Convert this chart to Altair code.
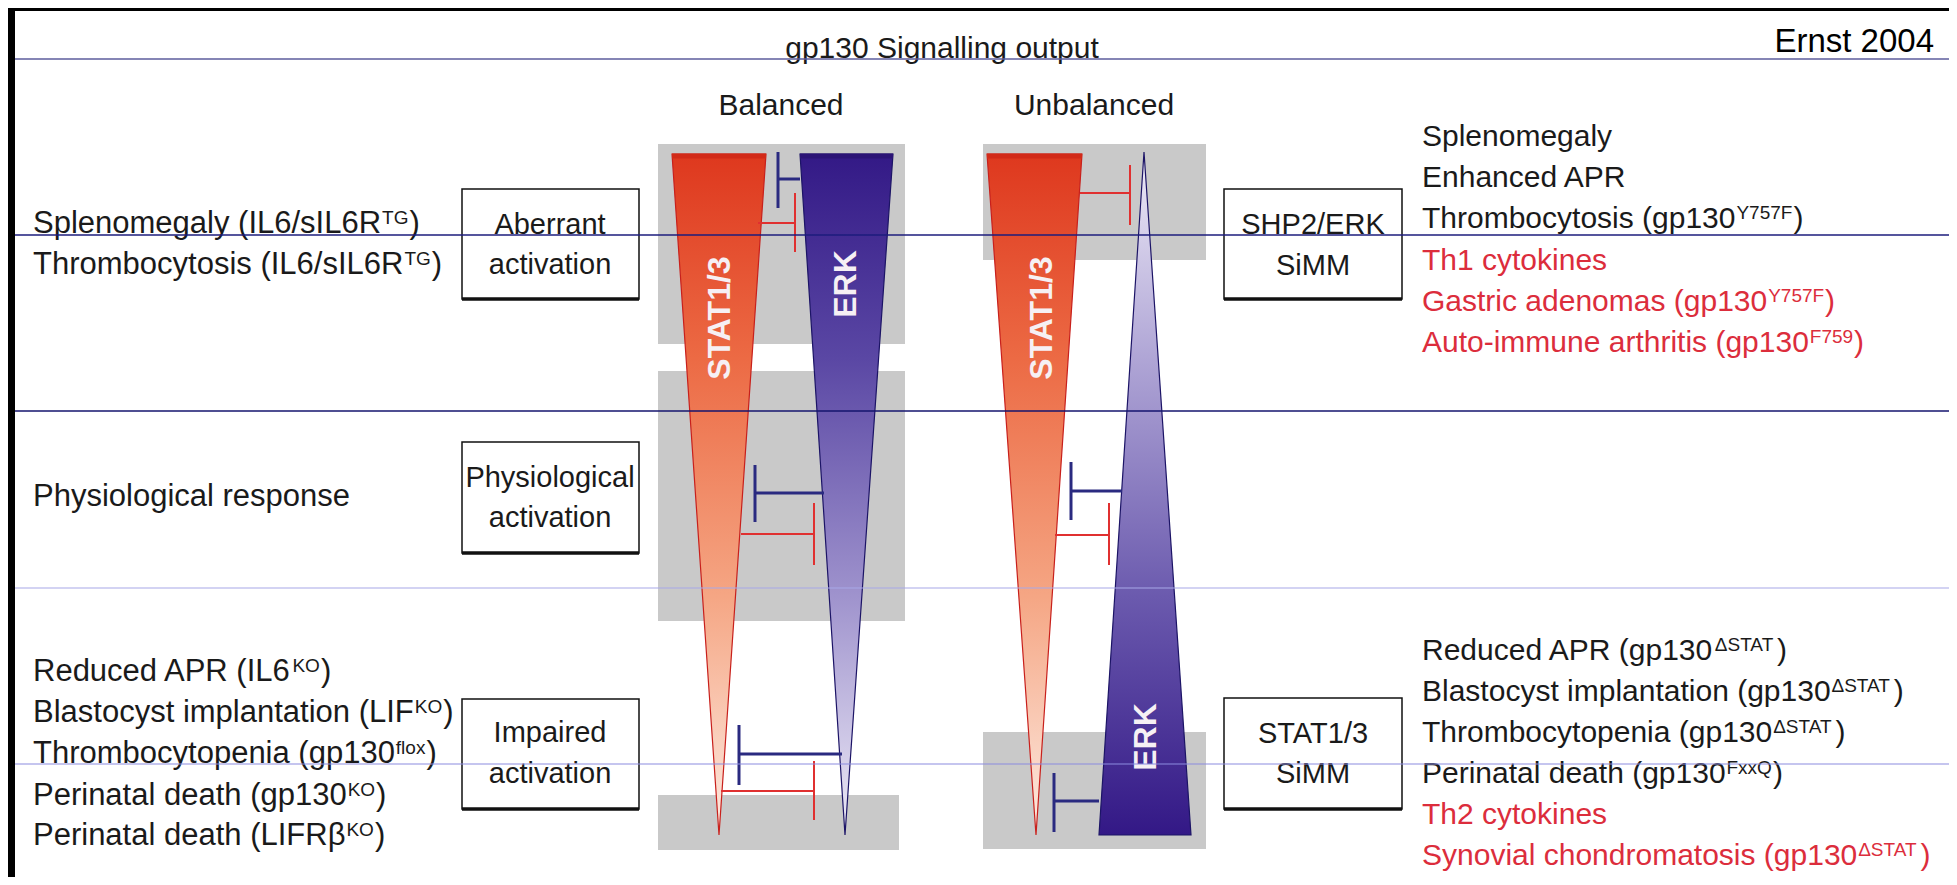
import altair as alt
import pandas as pd

# ---------------- frame (page pixel space) ----------------
X_DOM = [8, 1949]
Y_DOM = [8, 877]
XS = alt.Scale(domain=X_DOM, nice=False, zero=False)
YS = alt.Scale(domain=Y_DOM, nice=False, zero=False, reverse=True)
FONT = "Liberation Sans"

# ---------------- texts ----------------
left_base = ["Splenomegaly (IL6/sIL6R", "Thrombocytosis (IL6/sIL6R", "Physiological response",
             "Reduced APR (IL6", "Blastocyst implantation (LIF", "Thrombocytopenia (gp130",
             "Perinatal death (gp130", "Perinatal death (LIFRβ"]
left_sup = ["TG", "TG", "", "KO", "KO", "flox", "KO", "KO"]
left_y = [233, 274, 506, 681, 722, 763, 805, 845]

right_base = ["Splenomegaly", "Enhanced APR", "Thrombocytosis (gp130", "Th1 cytokines",
              "Gastric adenomas (gp130", "Auto-immune arthritis (gp130",
              "Reduced APR (gp130", "Blastocyst implantation (gp130", "Thrombocytopenia (gp130",
              "Perinatal death (gp130", "Th2 cytokines", "Synovial chondromatosis (gp130"]
right_sup = ["", "", "Y757F", "", "Y757F", "F759", "ΔSTAT", "ΔSTAT", "ΔSTAT", "FxxQ", "", "ΔSTAT"]
right_red = [0, 0, 0, 1, 1, 1, 0, 0, 0, 0, 1, 1]
right_y = [146, 187, 228, 270, 311, 352, 660, 701, 742, 783, 824, 865]

box_lines = ["Aberrant", "activation", "Physiological", "activation", "Impaired", "activation",
             "SHP2/ERK", "SiMM", "STAT1/3", "SiMM"]
box_line_x = [550, 550, 550, 550, 550, 550, 1313, 1313, 1313, 1313]
box_line_y = [234, 274, 487, 527, 742, 783, 234, 275, 743, 783]

head_text = ["gp130 Signalling output", "Balanced", "Unbalanced"]
head_x = [942, 781, 1094]
head_y = [58, 115, 115]

# ---------------- shapes ----------------
gray_x = [658, 658, 658, 983, 983]
gray_x2 = [905, 905, 899, 1206, 1206]
gray_y = [144, 371, 795, 144, 732]
gray_y2 = [344, 621, 850, 260, 849]

box_x = [462, 462, 462, 1224, 1224]
box_x2 = [639, 639, 639, 1402, 1402]
box_y = [189, 442, 699, 189, 698]
box_y2 = [299, 553, 809, 299, 809]

# triangles: top y, bottom y, left/right at top, left/right at bottom
tri_names = ["B_STAT", "B_ERK", "U_STAT", "U_ERK"]
tri_y = [[154, 835], [154, 835], [154, 835], [152, 835]]
tri_xl = [[672, 719], [800, 845], [987, 1036], [1144, 1099]]
tri_xr = [[766, 719], [893, 845], [1082, 1036], [1144, 1191]]
tri_stroke = ["#c8201c", "#1c1466", "#c8201c", "#1c1466"]
tri_stops = [
    [("#de381e", 0), ("#ec6a44", 0.3), ("#f5a684", 0.65), ("#fdebe2", 1)],
    [("#331986", 0), ("#5a47a4", 0.3), ("#9f93cd", 0.65), ("#eeebf7", 1)],
    [("#de381e", 0), ("#ec6a44", 0.3), ("#f5a684", 0.65), ("#fdebe2", 1)],
    [("#eeebf7", 0), ("#b0a6d6", 0.3), ("#6b5aae", 0.65), ("#331886", 1)],
]
top_x = [672, 800, 987]
top_x2 = [766, 893, 1082]
top_c = ["#d22a18", "#2c1476", "#d22a18"]

tri_label = ["STAT1/3", "ERK", "STAT1/3", "ERK"]
tri_label_x = [720, 846, 1042, 1146]
tri_label_y = [318, 284, 318, 737]

# inhibition T-bars: bar x, bar y1, bar y2, stem x1, stem x2, stem y, colour
inh = [
    (778, 152, 208, 778, 800, 179, "navy"),
    (795, 193, 252, 758, 795, 223, "red"),
    (755, 465, 522, 755, 824, 493, "navy"),
    (814, 503, 565, 741, 814, 534, "red"),
    (739, 725, 785, 739, 842, 754, "navy"),
    (814, 761, 820, 721, 814, 791, "red"),
    (1130, 165, 225, 1080, 1130, 193, "red"),
    (1071, 462, 520, 1071, 1122, 491, "navy"),
    (1109, 503, 565, 1055, 1109, 535, "red"),
    (1054, 773, 832, 1054, 1099, 801, "navy"),
]
inh_col = {"navy": ("#2a2a80", 3), "red": ("#e03030", 2)}

hline_y = [59, 235, 411, 588, 764]
hline_c = ["#5c5c9c", "#1c1c7c", "#14146e", "#a8a8e8", "#8c8ce0"]
hline_w = [1.5, 1.5, 1.5, 1.2, 1.2]

# ---------------- text metrics (Arial / Liberation Sans, per 1000 em) ----------------
ARIAL = dict(A=667, B=667, C=722, D=722, E=667, F=611, G=778, H=722, I=278, J=500, K=667, L=556,
             M=833, N=722, O=778, P=667, Q=778, R=722, S=667, T=611, U=722, V=667, W=944, X=667,
             Y=667, Z=611, a=556, b=556, c=500, d=556, e=556, f=278, g=556, h=556, i=222, j=222,
             k=500, l=222, m=833, n=556, o=556, p=556, q=556, r=333, s=500, t=278, u=556, v=500,
             w=722, x=500, y=500, z=500)
ARIAL.update({" ": 278, "(": 333, ")": 333, "/": 278, "-": 333, "Δ": 668, "β": 575})
for d in "0123456789":
    ARIAL[d] = 556


def tw(s, fs):
    return sum(ARIAL.get(ch, 556) for ch in s) * fs / 1000.0


BLACK = "#1a1a1a"
RED = "#dc2d3c"
SUP = 19
SUP_RAISE = 9


def seg_rows(x0, bases, sups, ys, fs, colors):
    rows = []
    for b, s, y, c in zip(bases, sups, ys, colors):
        rows.append(dict(x=x0, y=y, t=b, fs=fs, c=c))
        if s:
            sx = x0 + tw(b, fs) + 1
            rows.append(dict(x=sx, y=y - SUP_RAISE, t=s, fs=SUP, c=c))
            rows.append(dict(x=sx + tw(s, SUP) + 1, y=y, t=")", fs=fs, c=c))
    return rows


rows = seg_rows(33, left_base, left_sup, left_y, 31, [BLACK] * len(left_base))
rows += seg_rows(1422, right_base, right_sup, right_y, 30, [RED if r else BLACK for r in right_red])
df_text = pd.DataFrame(rows)

df_center = pd.DataFrame(
    [dict(x=x, y=y, t=t, fs=29) for t, x, y in zip(box_lines, box_line_x, box_line_y)]
    + [dict(x=x, y=y, t=t, fs=30) for t, x, y in zip(head_text, head_x, head_y)]
)
df_ernst = pd.DataFrame([dict(x=1934, y=52, t="Ernst 2004")])

df_white = pd.DataFrame([dict(x=15, x2=1955, y=11, y2=890)])
df_gray = pd.DataFrame(dict(x=gray_x, x2=gray_x2, y=gray_y, y2=gray_y2))
df_box = pd.DataFrame(dict(x=box_x, x2=box_x2, y=box_y, y2=box_y2))
df_top = pd.DataFrame(dict(x=top_x, x2=top_x2, y=[156] * 3, c=top_c))
df_lab = pd.DataFrame(dict(x=tri_label_x, y=tri_label_y, t=tri_label))

inh_rows = []
for bx, by1, by2, sx1, sx2, sy, col in inh:
    c, w = inh_col[col]
    inh_rows.append(dict(x=bx, x2=bx, y=by1, y2=by2, c=c, w=w))
    inh_rows.append(dict(x=sx1, x2=sx2, y=sy, y2=sy, c=c, w=w))
df_inh = pd.DataFrame(inh_rows)

df_hl = pd.DataFrame(dict(x=[15] * 5, x2=[1955] * 5, y=hline_y, c=hline_c, w=hline_w))


def X(f="x"):
    return alt.X(f"{f}:Q", scale=XS, axis=None)


def Y(f="y"):
    return alt.Y(f"{f}:Q", scale=YS, axis=None)


layers = []
layers.append(alt.Chart(df_white).mark_rect(fill="white").encode(
    x=X(), x2="x2", y=Y(), y2="y2"))
layers.append(alt.Chart(df_gray).mark_rect(fill="#c9c9c9").encode(
    x=X(), x2="x2", y=Y(), y2="y2"))

for i, name in enumerate(tri_names):
    dft = pd.DataFrame(dict(y=tri_y[i], xl=tri_xl[i], xr=tri_xr[i]))
    grad = alt.LinearGradient(
        gradient="linear",
        stops=[alt.GradientStop(color=c, offset=o) for c, o in tri_stops[i]],
        x1=0, x2=0, y1=0, y2=1)
    layers.append(alt.Chart(dft).mark_area(
        orient="horizontal", fill=grad, stroke=tri_stroke[i], strokeWidth=1.2, opacity=1
    ).encode(y=Y(), x=alt.X("xl:Q", scale=XS, axis=None, stack=None), x2="xr"))

layers.append(alt.Chart(df_top).mark_rule(strokeWidth=5).encode(
    x=X(), x2="x2", y=Y(), color=alt.Color("c:N", scale=None)))

layers.append(alt.Chart(df_inh).mark_rule().encode(
    x=X(), x2="x2", y=Y(), y2="y2",
    color=alt.Color("c:N", scale=None), strokeWidth=alt.StrokeWidth("w:Q", scale=None)))

layers.append(alt.Chart(df_lab).mark_text(
    angle=270, font=FONT, fontSize=32, fontWeight="bold", color="#f6f0f4",
    align="center", baseline="middle").encode(x=X(), y=Y(), text="t:N"))

layers.append(alt.Chart(df_box).mark_rect(fill="white", stroke="#111111", strokeWidth=1.5).encode(
    x=X(), x2="x2", y=Y(), y2="y2"))
layers.append(alt.Chart(df_box).mark_rule(color="#111111", strokeWidth=3.5).encode(
    x=X(), x2="x2", y=Y("y2")))

layers.append(alt.Chart(df_text).mark_text(
    font=FONT, align="left", baseline="alphabetic").encode(
    x=X(), y=Y(), text="t:N",
    size=alt.Size("fs:Q", scale=None), color=alt.Color("c:N", scale=None)))

layers.append(alt.Chart(df_center).mark_text(
    font=FONT, align="center", baseline="alphabetic", color=BLACK).encode(
    x=X(), y=Y(), text="t:N", size=alt.Size("fs:Q", scale=None)))

layers.append(alt.Chart(df_ernst).mark_text(
    font=FONT, align="right", baseline="alphabetic", color="#000000", fontSize=33).encode(
    x=X(), y=Y(), text="t:N"))

layers.append(alt.Chart(df_hl).mark_rule().encode(
    x=X(), x2="x2", y=Y(),
    color=alt.Color("c:N", scale=None), strokeWidth=alt.StrokeWidth("w:Q", scale=None)))

chart = alt.layer(*layers).properties(
    width=1941, height=869, padding=0, background="#000000",
    autosize=alt.AutoSizeParams(type="none")
).configure_view(stroke=None)

chart.save("out.html", embed_options={"renderer": "svg", "actions": False})
